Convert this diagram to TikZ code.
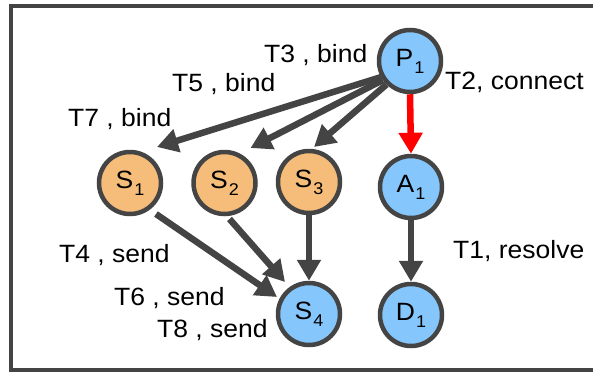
\documentclass[tikz,border=0pt]{standalone}
\usepackage{fontspec}
\setmainfont{Liberation Sans}
\newfontfamily\lblfont[FakeStretch=1.06]{Liberation Sans}
\usetikzlibrary{arrows.meta}
\definecolor{edgegray}{HTML}{444444}
\definecolor{nodeblue}{HTML}{85C7FC}
\definecolor{nodeorange}{HTML}{F5BC7A}
\newcommand{\nodesub}[2]{#1\kern1pt\raisebox{-7pt}{\fontsize{17}{20}\selectfont #2}}
\tikzset{
  bluenode/.style={circle,draw=edgegray,line width=4.5pt,fill=nodeblue,minimum size=62pt,inner sep=0pt,font=\lblfont\fontsize{25}{28}\selectfont},
  orangenode/.style={bluenode,fill=nodeorange},
  conn/.style={draw=edgegray,line width=6.5pt,-{Triangle[length=21pt,width=23pt]}},
  redconn/.style={conn,draw=red,-{Triangle[length=21pt,width=23pt,fill=red]}},
  lbl/.style={anchor=base west,inner sep=0pt,font=\lblfont\fontsize{25}{28}\selectfont}
}
\begin{document}
\begin{tikzpicture}[x=1pt,y=-1pt]
\useasboundingbox (0,0) rectangle (593,372);
\draw[edgegray,line width=4pt] (620,5.5) -- (10.5,5.5) -- (10.5,370) -- (620,370);
\node[bluenode] (P1) at (410,61) {\nodesub{P}{1}};
\node[orangenode] (S1) at (130,183) {\nodesub{S}{1}};
\node[orangenode] (S2) at (224.5,183) {\nodesub{S}{2}};
\node[orangenode] (S3) at (309,182) {\nodesub{S}{3}};
\node[bluenode] (A1) at (411,187) {\nodesub{A}{1}};
\node[bluenode] (S4) at (309,314) {\nodesub{S}{4}};
\node[bluenode] (D1) at (411,315) {\nodesub{D}{1}};
\path[conn] (P1.209) -- ([shift={(27,-36)}]S1.center);
\path[conn] (P1.215) -- ([shift={(26,-35)}]S2.center);
\path[conn] (P1.225) -- ([shift={(5,-35)}]S3.center);
\path[redconn] (P1.south) -- (A1.north);
\path[conn] ([shift={(26,31)}]S1.center) -- ([shift={(-32,-17)}]S4.center);
\path[conn] ([shift={(5,36)}]S2.center) -- ([shift={(-24,-32)}]S4.center);
\path[conn] (S3.south) -- (S4.north);
\path[conn] (A1.south) -- (D1.north);
\node[lbl] (t3) at (264,62) {T3 , bind};
\node[lbl] (t5) at (172,91) {T5 , bind};
\node[lbl] (t7) at (68,126) {T7 , bind};
\node[lbl] (t2) at (445,89) {T2, connect};
\node[lbl] (t4) at (59,262) {T4 , send};
\node[lbl] (t6) at (114,305) {T6 , send};
\node[lbl] (t8) at (157,337) {T8 , send};
\node[lbl] (t1) at (453,258) {T1, resolve};
\end{tikzpicture}
\end{document}
